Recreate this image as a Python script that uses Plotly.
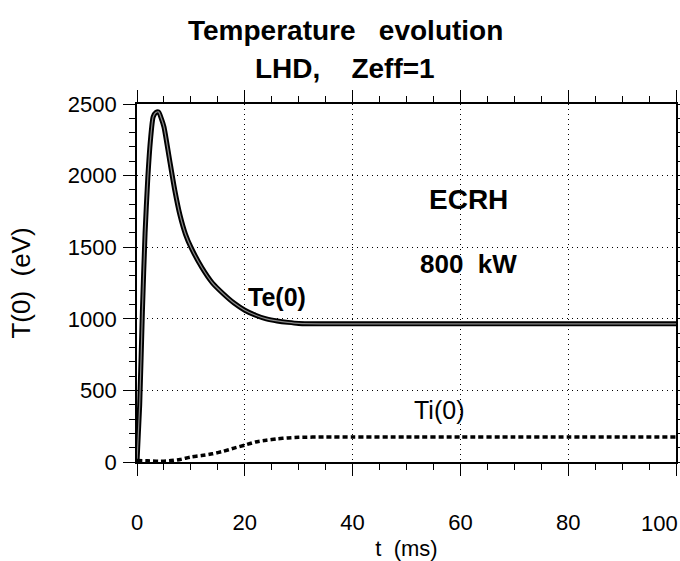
import plotly.graph_objects as go

# Central electron temperature Te(0) vs time
t_e = [0, 0.5, 1.0, 1.5, 2.0, 2.5, 3.0, 3.5, 4.0, 4.5, 5.0, 6.0, 7.0, 8.0, 9.0,
       10, 12, 14, 16, 18, 20, 22, 24, 26, 28, 30, 35, 40, 50, 60, 70, 80, 90, 100]
te = [0, 400, 1050, 1600, 1980, 2250, 2410, 2440, 2445, 2400, 2340, 2120, 1900,
      1720, 1590, 1500, 1360, 1250, 1175, 1110, 1060, 1025, 1000, 985, 975, 968,
      965, 965, 965, 965, 965, 965, 965, 965]

# Central ion temperature Ti(0) vs time
t_i = [0, 2, 4, 6, 8, 10, 12, 14, 16, 18, 20, 22, 24, 26, 28, 30, 35, 40, 50,
       60, 70, 80, 90, 100]
ti = [10, 8, 5, 8, 18, 35, 45, 57, 75, 97, 118, 140, 152, 162, 168, 172, 175,
      175, 175, 175, 175, 175, 175, 175]

x_ticks = [0, 20, 40, 60, 80, 100]
x_ticktext = ["0", "20", "40", "60", "80", ""]   # "100" is placed flush with the right edge
y_ticks = [0, 500, 1000, 1500, 2000, 2500]

FONT = "Liberation Sans, Arial, sans-serif"

fig = go.Figure()

# Te(0): heavy black trace with a light core
fig.add_trace(go.Scatter(x=t_e, y=te, mode="lines",
                         line=dict(color="black", width=5, shape="spline", smoothing=0.6),
                         showlegend=False, hoverinfo="skip"))
fig.add_trace(go.Scatter(x=t_e, y=te, mode="lines",
                         line=dict(color="#8a8a8a", width=1.2, shape="spline", smoothing=0.6),
                         showlegend=False, hoverinfo="skip"))

# Ti(0): dashed trace
fig.add_trace(go.Scatter(x=t_i, y=ti, mode="lines",
                         line=dict(color="black", width=3.5, dash="5px,3px",
                                   shape="spline", smoothing=0.6),
                         showlegend=False, hoverinfo="skip"))

axis_common = dict(
    showline=True, linecolor="black", linewidth=1.6, mirror="allticks",
    ticks="outside", ticklen=12, tickwidth=1.2, tickcolor="black",
    showgrid=True, gridcolor="black", gridwidth=1, griddash="1px,4px",
    zeroline=False, automargin=False,
    tickfont=dict(family=FONT, size=22, color="black"),
)

fig.update_xaxes(range=[0, 100], tickvals=x_ticks, ticktext=x_ticktext,
                 minor=dict(dtick=5, ticklen=6, tickcolor="black", showgrid=False),
                 ticklabelstandoff=28,
                 title=dict(text="t  (ms)", font=dict(family=FONT, size=22, color="black"),
                            standoff=8),
                 **axis_common)
fig.update_yaxes(range=[0, 2500], tickvals=y_ticks, ticktext=[str(v) for v in y_ticks],
                 minor=dict(dtick=100, ticklen=6, tickcolor="black", showgrid=False),
                 ticklabelstandoff=2,
                 title=dict(text="T(0)  (eV)", font=dict(family=FONT, size=26, color="black"),
                            standoff=30),
                 **axis_common)

annotations = [
    dict(text="<b>Temperature   evolution</b>", xref="paper", yref="paper",
         x=0.386, y=1.0, yanchor="middle", yshift=74, showarrow=False,
         font=dict(family=FONT, size=28, color="black")),
    dict(text="<b>LHD,    Zeff=1</b>", xref="paper", yref="paper",
         x=0.386, y=1.0, yanchor="middle", yshift=36, showarrow=False,
         font=dict(family=FONT, size=28, color="black")),
    dict(text="<b>ECRH</b>", x=61.5, y=1830, showarrow=False,
         font=dict(family=FONT, size=28, color="black")),
    dict(text="<b>800  kW</b>", x=61.5, y=1380, showarrow=False,
         font=dict(family=FONT, size=26, color="black")),
    dict(text="<b>Te(0)</b>", x=26, y=1150, showarrow=False,
         font=dict(family=FONT, size=25, color="black")),
    dict(text="Ti(0)", x=56, y=360, showarrow=False,
         font=dict(family=FONT, size=25, color="black")),
    # last x tick label, right-aligned to the page edge
    dict(text=str(x_ticks[-1]), x=x_ticks[-1], xanchor="right", xshift=4,
         yref="paper", y=0, yanchor="middle", yshift=-61, showarrow=False,
         font=dict(family=FONT, size=22, color="black")),
]

fig.update_layout(
    width=680, height=561,
    margin=dict(l=137, r=4, t=104, b=99),
    paper_bgcolor="white", plot_bgcolor="white",
    annotations=annotations,
    showlegend=False,
)

fig.write_html("out.html")
